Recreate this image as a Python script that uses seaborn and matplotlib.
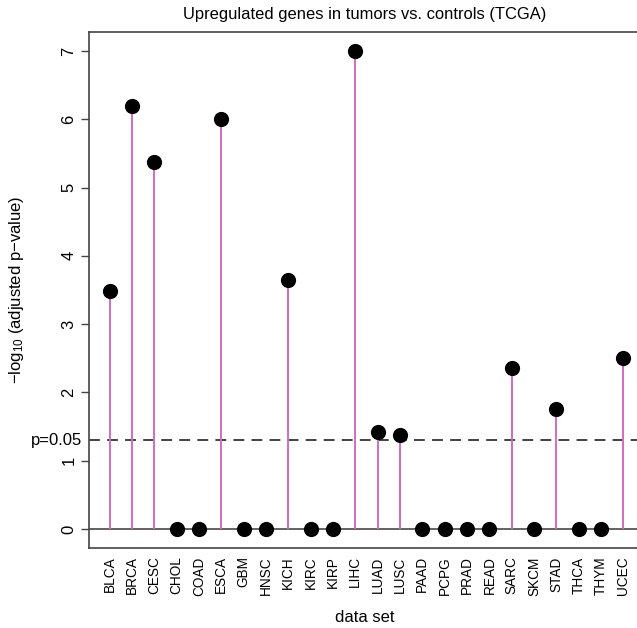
import matplotlib
matplotlib.use("Agg")
import matplotlib.pyplot as plt
import seaborn as sns
import pandas as pd
import numpy as np

# TCGA data sets and -log10(adjusted p-value) for upregulated genes
datasets = ["BLCA", "BRCA", "CESC", "CHOL", "COAD", "ESCA", "GBM", "HNSC",
            "KICH", "KIRC", "KIRP", "LIHC", "LUAD", "LUSC", "PAAD", "PCPG",
            "PRAD", "READ", "SARC", "SKCM", "STAD", "THCA", "THYM", "UCEC"]
neglog_padj = [3.49, 6.19, 5.38, 0.0, 0.0, 6.00, 0.0, 0.0,
               3.65, 0.0, 0.0, 7.00, 1.42, 1.38, 0.0, 0.0,
               0.0, 0.0, 2.36, 0.0, 1.76, 0.0, 0.0, 2.51]
p_cutoff = 0.05
yticks = [0, 1, 2, 3, 4, 5, 6, 7]

df = pd.DataFrame({"dataset": datasets, "score": neglog_padj})
df["pos"] = range(len(df))

sns.set_style("white")
plt.rcParams["font.family"] = ["Liberation Sans", "DejaVu Sans"]
plt.rcParams["mathtext.default"] = "regular"
plt.rcParams["text.color"] = "black"
plt.rcParams["xtick.color"] = "black"
plt.rcParams["ytick.color"] = "black"

W, H = 637, 628
fig = plt.figure(figsize=(W / 100, H / 100), dpi=100)
ax = fig.add_axes([89 / W, 1 - 548 / H, 555 / W, 516 / H])

cut = -np.log10(p_cutoff)

# reference lines
ax.axhline(0, color="#555555", lw=1.3, zorder=1)
ax.axhline(cut, color="#333333", lw=1.3, ls=(0, (6, 4)), zorder=1)

# stems
ax.vlines(df["pos"], 0, df["score"], color="#d26cbf", lw=1.4, zorder=2)

# heads
sns.scatterplot(data=df, x="pos", y="score", ax=ax, color="black", s=120,
                edgecolor="black", linewidth=0, zorder=3, legend=False)

ax.set_xlim(-0.92, len(df) - 1 + 0.92)
ax.set_ylim(-0.28, 7.28)

ax.set_xticks(df["pos"])
ax.set_xticklabels(df["dataset"], rotation=90, fontsize=9.8)
ax.tick_params(axis="x", length=0, pad=6, labelcolor="black")

ax.set_yticks(yticks)
ax.set_yticklabels([str(t) for t in yticks], rotation=90, va="center",
                   fontsize=12)
ax.tick_params(axis="y", left=True, length=6, width=1, color="#444444", pad=3,
               labelcolor="black")

for s in ax.spines.values():
    s.set_color("#444444")
    s.set_linewidth(1.2)
ax.set_xlabel("")
ax.set_ylabel("")

# threshold label, axis titles and plot title
ax.annotate("p=0.05", xy=(0, cut), xycoords=("axes fraction", "data"),
            xytext=(-7 / 100 * 72, 0), textcoords="offset points",
            ha="right", va="center", fontsize=12)
fig.text(17 / W, 1 - 290 / H, "\u2212log$_{10}$ (adjusted p\u2212value)",
         rotation=90, ha="center", va="center", fontsize=12)
fig.text(365 / W, 1 - 617 / H, "data set", ha="center", va="center",
         fontsize=12)
fig.text(365 / W, 1 - 15 / H, "Upregulated genes in tumors vs. controls (TCGA)",
         ha="center", va="center", fontsize=11.9)

fig.savefig("out.png", dpi=100)
